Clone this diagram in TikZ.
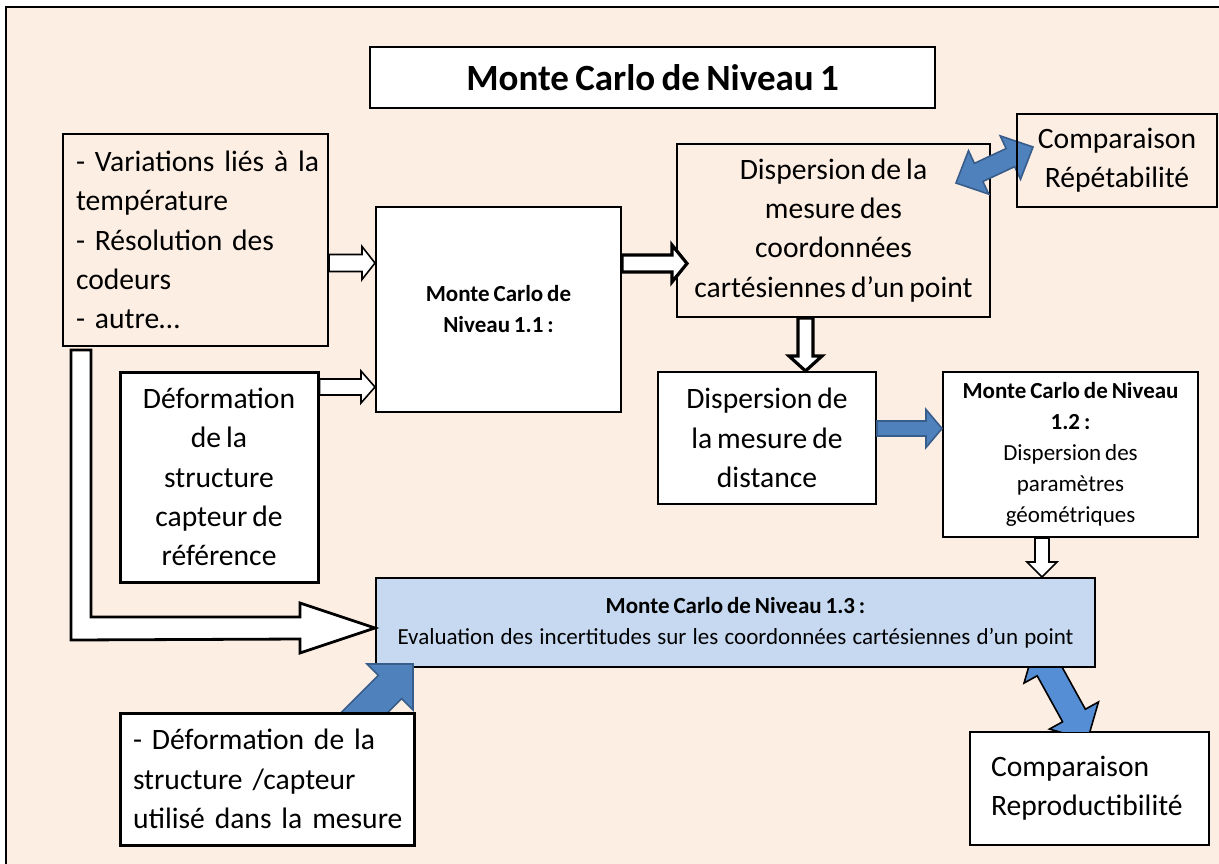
\documentclass[tikz,border=0pt]{standalone}
\usepackage{fontspec}
\setmainfont{Carlito}[WordSpace=0.75]
\usetikzlibrary{calc}

\definecolor{peach}{RGB}{253,238,228}
\definecolor{paleblue}{RGB}{198,217,241}
\definecolor{arrowblue}{RGB}{79,129,189}
\definecolor{arrowedge}{RGB}{56,93,138}
\definecolor{brightblue}{RGB}{85,142,213}

\newcommand{\bigtxt}{\fontsize{14.8}{19.6}\selectfont}
\newcommand{\smalltxt}{\fontsize{11.5}{15.5}\selectfont}
\newcommand{\titletxt}{\fontsize{18.5}{22}\selectfont\bfseries}

\tikzset{
  box/.style={draw, line width=1pt, inner sep=0pt, align=center, font=\bigtxt},
  thickbox/.style={box, line width=1.5pt},
  whitearrow/.style={draw, fill=white, line width=0.8pt},
  heavyarrow/.style={draw, fill=white, line width=1.6pt},
  bluearrow/.style={draw=arrowedge, fill=arrowblue, line width=0.8pt},
  fatarrow/.style n args={3}{to path={
    ($(\tikztostart)!#1!90:(\tikztotarget)$)
    -- ($(\tikztotarget)!#3!(\tikztostart)!#1!-90:(\tikztostart)$)
    -- ($(\tikztotarget)!#3!(\tikztostart)!#2!-90:(\tikztostart)$)
    -- (\tikztotarget)
    -- ($(\tikztotarget)!#3!(\tikztostart)!#2!90:(\tikztostart)$)
    -- ($(\tikztotarget)!#3!(\tikztostart)!#1!90:(\tikztostart)$)
    -- ($(\tikztostart)!#1!-90:(\tikztotarget)$)
    -- cycle}},
  fatboth/.style n args={3}{to path={
    (\tikztostart)
    -- ($(\tikztostart)!#3!(\tikztotarget)!#2!90:(\tikztotarget)$)
    -- ($(\tikztostart)!#3!(\tikztotarget)!#1!90:(\tikztotarget)$)
    -- ($(\tikztotarget)!#3!(\tikztostart)!#1!-90:(\tikztostart)$)
    -- ($(\tikztotarget)!#3!(\tikztostart)!#2!-90:(\tikztostart)$)
    -- (\tikztotarget)
    -- ($(\tikztotarget)!#3!(\tikztostart)!#2!90:(\tikztostart)$)
    -- ($(\tikztotarget)!#3!(\tikztostart)!#1!90:(\tikztostart)$)
    -- ($(\tikztostart)!#3!(\tikztotarget)!#1!-90:(\tikztotarget)$)
    -- ($(\tikztostart)!#3!(\tikztotarget)!#2!-90:(\tikztotarget)$)
    -- cycle}},
}

\begin{document}
\begin{tikzpicture}[x=0.5pt, y=-0.5pt]
\useasboundingbox (0,0) rectangle (1219,863);
\fill[white] (0,0) rectangle (1219,863);
\draw[fill=peach, line width=1pt] (6,7) rectangle (1240,880);

% boxes
\node[box, fill=white, line width=0.8pt, font=\titletxt, minimum width=282.5pt, minimum height=30.5pt] (title) at (652.5,77.5) {Monte Carlo de Niveau 1};
\node[box, align=left, text width=119.5pt, inner xsep=6.5pt, minimum height=106pt] (var) at (195.5,240) {\mbox{- Variations liés à la}\\température\\\mbox{- Résolution des}\\codeurs\\- autre…};
\node[box, fill=white, font=\smalltxt\bfseries, minimum width=122.5pt, minimum height=102.5pt] (mc11) at (498.5,309.5) {Monte Carlo de\\Niveau 1.1 :};
\node[thickbox, fill=white, minimum width=99pt, minimum height=105pt] (ref) at (219,477) {Déformation\\de la\\structure\\capteur de\\référence};
\node[box, minimum width=156.5pt, minimum height=86.5pt] (coord) at (833.5,230.5) {Dispersion de la\\mesure des\\coordonnées\\cartésiennes d’un point};
\node[box, fill=white, minimum width=109pt, minimum height=66pt] (dist) at (767,438) {Dispersion de\\la mesure de\\distance};
\node[box, fill=white, font=\smalltxt, minimum width=127.5pt, minimum height=82.5pt] (mc12) at (1070.5,454.5) {\textbf{Monte Carlo de Niveau}\\\textbf{1.2 :}\\Dispersion des\\paramètres\\géométriques};
\node[box, fill=paleblue, font=\smalltxt, minimum width=359.5pt, minimum height=44.5pt] (mc13) at (735.5,622.5) {\textbf{Monte Carlo de Niveau 1.3 :}\\\makebox[338pt][s]{Evaluation des incertitudes sur les coordonnées cartésiennes d’un point}};
\node[thickbox, fill=white, align=left, text width=134pt, inner xsep=6.5pt, minimum height=66pt] (deform) at (267,779) {\mbox{- Déformation de la}\\\mbox{structure /capteur}\\\mbox{utilisé dans la mesure}};
\node[box, fill=white, align=left, text width=98.5pt, inner xsep=10.5pt, minimum height=56.5pt] (repro) at (1089.5,788.5) {Comparaison\\Reproductibilité};

% arrow ends
\coordinate (varout) at ($(var.east)+(0,23)$);
\coordinate (mc11in) at ($(mc11.west)+(0,-46.5)$);
\coordinate (refout) at ($(ref.east)+(0,-90)$);
\coordinate (mc11low) at (mc11.west |- refout);
\coordinate (mc11out) at ($(mc11.east)+(0,-46)$);
\coordinate (coordin) at ($(coord.west |- mc11out)+(11,0)$);
\coordinate (coordout) at ($(coord.south)+(-28,0)$);
\coordinate (distin) at (dist.north -| coordout);
\coordinate (distout) at ($(dist.east)+(0,-9.5)$);
\coordinate (mc12in) at (mc12.west |- distout);
\coordinate (mc12out) at ($(mc12.south)+(-28.5,0)$);
\coordinate (mc13in) at (mc13.north -| mc12out);
\coordinate (coordtip) at ($(coord.east)+(-35,-47.5)$);
\coordinate (reptip) at ($(coord.north east)+(42,4)$);
\coordinate (deftail) at ($(deform.north east)+(-67,17)$);
\coordinate (deftip) at ($(mc13.south west)+(38,-4)$);
\coordinate (mc13tip) at ($(mc13.south east)+(-61,-23)$);
\coordinate (reprotip) at ($(repro.north)+(-2,9)$);

% white arrows
\draw[whitearrow, fatarrow={4.25pt}{8.25pt}{6.5pt}] (varout) to (mc11in);
\draw[whitearrow, fatarrow={4pt}{8pt}{7pt}] (refout) to (mc11low);
\draw[heavyarrow, fatarrow={4.25pt}{9.25pt}{7.5pt}] (mc11out) to (coordin);
\draw[heavyarrow, fatarrow={3.75pt}{8.25pt}{7.5pt}] (coordout) to (distin);
\draw[whitearrow, fatarrow={3.5pt}{7.5pt}{7.5pt}] (mc12out) to (mc13in);
\draw[whitearrow, line width=1.4pt] ($(var.south west)+(9,3)$) -- ++(20,0)
  |- ($(mc13.west)+(-75,-5.5)$) -- ++(0,-14) -- ($(mc13.west)+(0,5.5)$)
  -- ++(-75,25) -- ++(0,-14) -- ($(var.south west)+(9,293)$) -- cycle;

% blue arrows
\draw[bluearrow, fatarrow={3.75pt}{9.5pt}{8pt}] (distout) to (mc12in);
\draw[bluearrow, fatboth={5pt}{12pt}{12.5pt}] (coordtip) to (reptip);
\begin{scope}
\clip (deform.north west) rectangle (mc13.north east);
\draw[bluearrow, fatarrow={8.2pt}{16.25pt}{16.25pt}] (deftail) to (deftip);
\end{scope}
\begin{scope}
\clip (mc13.south west) rectangle (repro.north east);
\draw[fill=brightblue, line width=0.8pt, fatboth={6.5pt}{14pt}{14pt}] (mc13tip) to (reprotip);
\end{scope}

\node[box, minimum width=100pt, minimum height=46.5pt] (rep) at (1117,160.5) {Comparaison\\Répétabilité};
\end{tikzpicture}
\end{document}
